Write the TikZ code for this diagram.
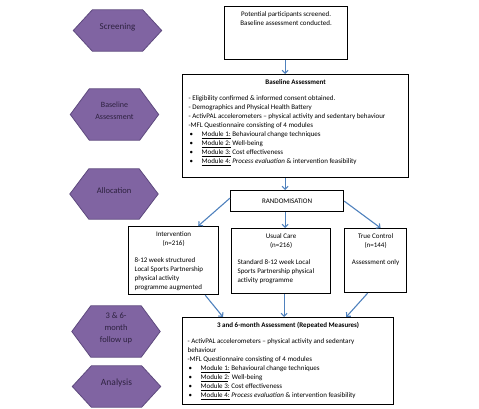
\documentclass[tikz,border=0pt]{standalone}
\usepackage{fontspec}
\setmainfont{Carlito}
\usetikzlibrary{arrows.meta,backgrounds}

\definecolor{phasepurple}{HTML}{8064A2}
\definecolor{phaseline}{HTML}{5E4A7E}
\definecolor{phaseink}{HTML}{2E2240}
\definecolor{flowblue}{HTML}{4F81BD}

\newcommand{\boxbody}[3]{\parbox[t][#2][t]{#1}{\fontsize{7}{9}\selectfont\strut#3}}
\newcommand{\modline}[1]{\\\hspace*{1pt}\makebox[12pt][l]{\textbullet}#1}

\begin{document}
\begin{tikzpicture}[
  x=1pt,y=-1pt,
  phase/.style={minimum width=88pt,minimum height=41pt,inner sep=0pt},
  tall/.style={minimum height=51pt},
  phasetext/.style={font=\fontsize{8.5}{12}\selectfont,text=phaseink,align=center,yshift=3.5pt},
  stepbox/.style={draw=black,line width=1.2pt,inner xsep=6pt,inner ysep=4pt,anchor=north west},
  flow/.style={draw=flowblue,line width=1.1pt,-{Straight Barb[length=3pt,width=6pt]}}
]
\useasboundingbox (0,0) rectangle (479,409);

\node[phase,label={[phasetext,font=\fontsize{9}{12}\selectfont]center:Screening}] (scr) at (117.5,30.5) {};
\node[phase,tall,label={[phasetext,font=\fontsize{8}{12}\selectfont]center:Baseline\\Assessment}] (bas) at (114.5,114.5) {};
\node[phase,minimum height=50pt,label={[phasetext,font=\fontsize{8.5}{12}\selectfont]center:Allocation}] (alloc) at (114,194) {};
\node[phase,tall,label={[phasetext]center:3 \& 6-\\month\\follow up}] (follow) at (116,331.5) {};
\node[phase,label={[phasetext,font=\fontsize{9.5}{12}\selectfont]center:Analysis}] (anal) at (116.5,386.5) {};

\begin{scope}[on background layer]
\foreach \n in {scr,bas,alloc,follow,anal}
  \filldraw[fill=phasepurple,draw=phaseline,line width=0.8pt]
    (\n.west) -- ([xshift=19pt]\n.north west) -- ([xshift=-19pt]\n.north east)
    -- (\n.east) -- ([xshift=-19pt]\n.south east) -- ([xshift=19pt]\n.south west) -- cycle;
\end{scope}

\node[stepbox] (screen) at (224,6) {\boxbody{111pt}{45pt}{\centering
  Potential participants screened.\\Baseline assessment conducted.}};

\node[stepbox] (baseline) at (182,74) {\boxbody{214pt}{95pt}{{\centering\textbf{Baseline Assessment}\par}\vspace{7pt}%
  - Eligibility confirmed \& informed consent obtained.\\
  - Demographics and Physical Health Battery\\
  - ActivPAL accelerometers – physical activity and sedentary behaviour\\
  -MFL Questionnaire consisting of 4 modules%
  \modline{\underline{Module 1:} Behavioural change techniques}%
  \modline{\underline{Module 2:} Well-being}%
  \modline{\underline{Module 3:} Cost effectiveness}%
  \modline{\underline{Module 4:} \textit{Process evaluation} \& intervention feasibility}}};

\node[draw=black,line width=1.2pt,minimum width=113pt,minimum height=21pt,anchor=north west,
  font=\fontsize{7}{9}\selectfont] (rand) at (230,190) {RANDOMISATION};

\node[stepbox] (interv) at (128,226) {\boxbody{78pt}{60pt}{{\centering Intervention\\(n=216)\par}\vspace{8pt}%
  8-12 week structured\\Local Sports Partnership\\physical activity\\programme augmented}};

\node[stepbox] (usual) at (231,228) {\boxbody{87pt}{57pt}{{\centering Usual Care\\(n=216)\par}\vspace{8pt}%
  Standard 8-12 week Local\\Sports Partnership physical\\activity programme}};

\node[stepbox] (control) at (344,228) {\boxbody{50pt}{56pt}{{\centering True Control\\(n=144)\par}\vspace{8pt}%
  {\centering Assessment only\par}}};

\node[stepbox,inner xsep=5pt] (repeat) at (182,317) {\boxbody{201pt}{79pt}{{\centering\textbf{3 and 6-month Assessment (Repeated Measures)}\par}\vspace{7pt}%
  - ActivPAL accelerometers – physical activity and sedentary\\
  behaviour\\
  -MFL Questionnaire consisting of 4 modules%
  \modline{\underline{Module 1:} Behavioural change techniques}%
  \modline{\underline{Module 2}: Well-being}%
  \modline{\underline{Module 3:} Cost effectiveness}%
  \modline{\underline{Module 4:} \textit{Process evaluation} \& intervention feasibility}}};

\draw[flow] ([xshift=-1pt]screen.south) -- ([xshift=-1pt]screen.south |- baseline.north);
\draw[flow] ([xshift=-2pt]rand.north |- baseline.south) -- ([xshift=-2pt]rand.north);
\draw[flow] ([yshift=3pt]rand.west) -- ([xshift=-21pt]interv.north east);
\draw[flow] ([xshift=-2pt]rand.south) -- ([xshift=-2pt]rand.south |- usual.north);
\draw[flow] (rand.east) -- ([xshift=5pt]control.north);
\draw[flow] ([xshift=-14pt]interv.south east) -- ([xshift=41pt]repeat.north west);
\draw[flow] ([xshift=3pt]usual.south) -- ([xshift=3pt]usual.south |- repeat.north);
\draw[flow] ([xshift=-8pt]control.south) -- ([xshift=-48pt]repeat.north east);
\end{tikzpicture}
\end{document}
